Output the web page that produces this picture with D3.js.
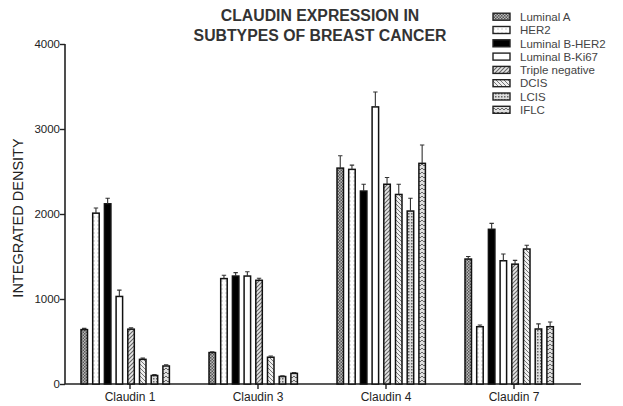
<!DOCTYPE html>
<html><head><meta charset="utf-8">
<script src="https://cdn.jsdelivr.net/npm/d3@7"></script>
<style>body{margin:0;background:#fff;} text{font-family:Arial,"Liberation Sans",sans-serif;}</style>
</head><body><svg id="c" width="623" height="406"></svg>
<script>
const categories = ["Claudin 1","Claudin 3","Claudin 4","Claudin 7"];
const series = ["Luminal A","HER2","Luminal B-HER2","Luminal B-Ki67","Triple negative","DCIS","LCIS","IFLC"];
// values[series][category]
const lumA   = [640, 370, 2540, 1470];
const her2   = [2010, 1240, 2525, 674];
const lumBH  = [2120, 1270, 2270, 1820];
const lumBK  = [1030, 1270, 3260, 1450];
const tripleN= [645, 1220, 2350, 1410];
const dcis   = [290, 315, 2230, 1588];
const lcis   = [100, 88, 2035, 647];
const iflc   = [212, 125, 2596, 674];
const errA   = [15, 10, 145, 30];
const errH2  = [60, 40, 50, 20];
const errBH  = [65, 40, 80, 70];
const errBK  = [75, 50, 175, 80];
const errTN  = [15, 25, 80, 45];
const errD   = [15, 15, 120, 45];
const errL   = [10, 8, 150, 60];
const errI   = [15, 10, 215, 55];
const yTicks = [0, 1000, 2000, 3000, 4000];
const allVals = [lumA, her2, lumBH, lumBK, tripleN, dcis, lcis, iflc];
const allErr = [errA, errH2, errBH, errBK, errTN, errD, errL, errI];
const patIds = ["pA","pH2","pBH","pBK","pTN","pD","pL","pI"];

const svg = d3.select("#c");
const defs = svg.append("defs");
function pat(id, w, h, draw, bg){
  const p = defs.append("pattern").attr("id", id).attr("patternUnits","userSpaceOnUse").attr("width", w).attr("height", h);
  p.append("rect").attr("width", w).attr("height", h).attr("fill", bg);
  draw(p);
}
pat("pA", 3, 3, p => { p.append("rect").attr("width",1.5).attr("height",1.5).attr("fill","#555"); p.append("rect").attr("x",1.5).attr("y",1.5).attr("width",1.5).attr("height",1.5).attr("fill","#555"); }, "#bbb");
pat("pH2", 4, 4, p => { p.append("rect").attr("x",1.5).attr("width",1).attr("height",2).attr("fill","#ccc"); }, "#fff");
pat("pBH", 4, 4, p => {}, "#000");
pat("pBK", 4, 4, p => {}, "#fff");
pat("pTN", 4, 4, p => { p.append("path").attr("d","M0,4L4,0M-1,1L1,-1M3,5L5,3").attr("stroke","#666").attr("stroke-width",1.1); }, "#e6e6e6");
pat("pD", 4, 4, p => { p.append("path").attr("d","M0,0L4,4M-1,3L1,5M3,-1L5,1").attr("stroke","#777").attr("stroke-width",1); }, "#eee");
pat("pL", 3, 3, p => { p.append("rect").attr("width",1.5).attr("height",1.5).attr("fill","#666"); }, "#ddd");
pat("pI", 4, 4, p => { p.append("path").attr("d","M0,2L2,0L4,2").attr("fill","none").attr("stroke","#666").attr("stroke-width",1); }, "#e0e0e0");

const y = d3.scaleLinear().domain([0, 4000]).range([384, 44]);
const x0 = d3.scaleBand().domain(categories).range([66, 578]);
const x1 = d3.scaleBand().domain(series).range([-49, 39.4]).paddingInner(0.444).paddingOuter(0);

// Y axis
const yAxis = svg.append("g").attr("transform","translate(65,0)")
  .call(d3.axisLeft(y).tickValues(yTicks).tickSize(5).tickFormat(d3.format("d")));
yAxis.select(".domain").attr("stroke","#222").attr("stroke-width",1.6).attr("d","M0,"+y(4000)+"V"+y(0));
yAxis.selectAll(".tick line").attr("stroke","#222").attr("stroke-width",1.4);
yAxis.selectAll(".tick text").attr("font-size",11.5).attr("fill","#222").attr("x",-5);

// X axis
const xAxis = svg.append("g").attr("transform","translate(0,"+y(0)+")")
  .call(d3.axisBottom(x0).tickSize(5).tickSizeOuter(0));
xAxis.select(".domain").attr("stroke","#222").attr("stroke-width",1.6).attr("d","M65,0H581");
xAxis.selectAll(".tick line").attr("stroke","#222").attr("stroke-width",1.4);
xAxis.selectAll(".tick text").attr("font-size",12).attr("fill","#222").attr("y",8);

// Bars
const data = [];
categories.forEach((c, ci) => series.forEach((s, si) => data.push({c, s, si, v: allVals[si][ci], e: allErr[si][ci]})));
const g = svg.append("g");
const bw = x1.bandwidth();
g.selectAll("rect.bar").data(data).enter().append("rect").attr("class","bar")
  .attr("x", d => x0(d.c) + x0.bandwidth()/2 + x1(d.s))
  .attr("y", d => y(d.v))
  .attr("width", bw)
  .attr("height", d => y(0) - y(d.v))
  .attr("fill", d => "url(#" + patIds[d.si] + ")")
  .attr("stroke","#111").attr("stroke-width",1.5);
// error bars
g.selectAll("path.err").data(data).enter().append("path").attr("class","err")
  .attr("d", d => { const cx = x0(d.c) + x0.bandwidth()/2 + x1(d.s) + bw/2; const t = y(d.v + d.e);
    return "M"+cx+","+y(d.v)+"V"+t+"M"+(cx-2.2)+","+t+"H"+(cx+2.2); })
  .attr("stroke","#333").attr("stroke-width",1.1).attr("fill","none");

// Title
svg.append("text").attr("x",320).attr("y",20.5).attr("text-anchor","middle").attr("font-size",15.8).attr("font-weight","bold").attr("fill","#333").text("CLAUDIN EXPRESSION IN");
svg.append("text").attr("x",320).attr("y",41).attr("text-anchor","middle").attr("font-size",15.8).attr("font-weight","bold").attr("fill","#333").text("SUBTYPES OF BREAST CANCER");

// Y label
svg.append("text").attr("transform","translate(23,218) rotate(-90)").attr("text-anchor","middle").attr("font-size",14.5).attr("fill","#222").text("INTEGRATED DENSITY");

// Legend
const leg = svg.append("g");
series.forEach((s, i) => {
  const yy = 16.7 + i * 13.3;
  leg.append("rect").attr("x",493).attr("y",yy-3.5).attr("width",17).attr("height",7)
    .attr("fill","url(#"+patIds[i]+")").attr("stroke","#222").attr("stroke-width",1.4);
  leg.append("text").attr("x",520).attr("y",yy+4.2).attr("font-size",11.5).attr("fill","#444").text(s);
});
</script></body></html>
